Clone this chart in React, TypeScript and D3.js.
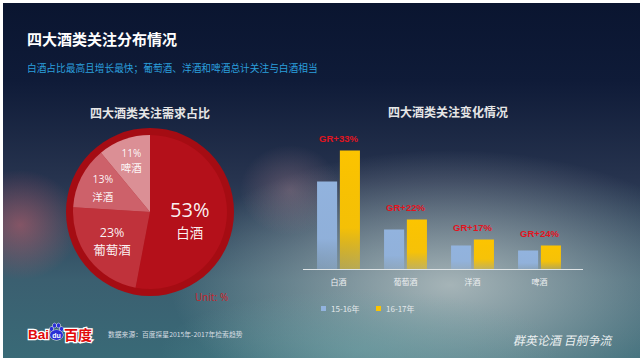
import React, { useEffect, useRef } from 'react';
import * as d3 from 'd3';

// Pie: share of attention by liquor type (%)
const pieLabels = ['白酒', '葡萄酒', '洋酒', '啤酒'];
const pieValues = [53, 23, 13, 11];

// Bars: attention by period
const categories = ['白酒', '葡萄酒', '洋酒', '啤酒'];
const seriesNames = ['15-16年', '16-17年'];
const values1516 = [88, 40, 24, 19];
const values1617 = [119, 50, 30, 24];
const growthLabels = ['GR+33%', 'GR+22%', 'GR+17%', 'GR+24%'];

const W = 640, H = 364;
const CJK = '"Noto Sans CJK SC", "Noto Sans", sans-serif';

const sliceColor: Record<string, string> = { '白酒': '#b4101a', '葡萄酒': '#c0323b', '洋酒': '#cd616a', '啤酒': '#db8f95' };
// label radius, font sizes, line offset and vertical nudge for each slice
const sliceLabel: Record<string, any> = {
  '白酒': { r: 40, pct: 20, name: 13.5, dy: 11, oy: 5 },
  '葡萄酒': { r: 48, pct: 12.5, name: 12.5, dy: 8.5, oy: 0 },
  '洋酒': { r: 53, pct: 10.5, name: 10.5, dy: 8.5, oy: 0 },
  '啤酒': { r: 55, pct: 10, name: 10.5, dy: 7, oy: 0 },
};
const seriesColor = ['#92b3de', '#fcc400'];

const App = () => {
  const svgRef = useRef<SVGSVGElement>(null);

  useEffect(() => {
    const svg = d3.select(svgRef.current);
    svg.selectAll('*').remove();

    // --- background ---
    const defs = svg.append('defs');
    const bg = defs.append('linearGradient').attr('id', 'bg').attr('x1', 0).attr('y1', 0).attr('x2', 0).attr('y2', 1);
    [['0%', '#0a1530'], ['22%', '#0f1b38'], ['50%', '#27344f'], ['78%', '#3b5f70'], ['100%', '#396a77']]
      .forEach(([o, c]) => bg.append('stop').attr('offset', o).attr('stop-color', c));

    const glow = (id: string, color: string, op: number) => {
      const g = defs.append('radialGradient').attr('id', id);
      g.append('stop').attr('offset', '0%').attr('stop-color', color).attr('stop-opacity', op);
      g.append('stop').attr('offset', '100%').attr('stop-color', color).attr('stop-opacity', 0);
    };
    glow('light', '#c9d0cf', 0.75);
    glow('red', '#c8606c', 0.55);
    glow('pink', '#b98a96', 0.35);
    glow('teal', '#6fa5a8', 0.5);

    const barFade = (id: string, color: string) => {
      const g = defs.append('linearGradient').attr('id', id).attr('x1', 0).attr('y1', 0).attr('x2', 0).attr('y2', 1);
      g.append('stop').attr('offset', '0%').attr('stop-color', color).attr('stop-opacity', 1);
      g.append('stop').attr('offset', '65%').attr('stop-color', color).attr('stop-opacity', 0.95);
      g.append('stop').attr('offset', '100%').attr('stop-color', color).attr('stop-opacity', 0.45);
    };
    barFade('fade0', seriesColor[0]);
    barFade('fade1', seriesColor[1]);

    defs.append('clipPath').attr('id', 'panel').append('rect').attr('x', 3).attr('y', 3).attr('width', W - 3).attr('height', 355);

    svg.append('rect').attr('width', W).attr('height', H).attr('fill', '#fff');
    const panel = svg.append('g').attr('clip-path', 'url(#panel)');
    panel.append('rect').attr('x', 3).attr('y', 3).attr('width', W - 3).attr('height', 355).attr('fill', 'url(#bg)');
    panel.append('ellipse').attr('cx', 450).attr('cy', 285).attr('rx', 280).attr('ry', 135).attr('fill', 'url(#light)');
    panel.append('ellipse').attr('cx', 360).attr('cy', 350).attr('rx', 200).attr('ry', 60).attr('fill', 'url(#teal)');
    panel.append('ellipse').attr('cx', 20).attr('cy', 225).attr('rx', 60).attr('ry', 55).attr('fill', 'url(#red)');
    panel.append('ellipse').attr('cx', 290).attr('cy', 190).attr('rx', 50).attr('ry', 45).attr('fill', 'url(#pink)');

    // --- titles ---
    svg.append('text').attr('x', 27).attr('y', 45).text('四大酒类关注分布情况')
      .style('font-family', CJK).style('font-size', '15px').style('font-weight', 'bold').attr('fill', '#ffffff');
    svg.append('text').attr('x', 27).attr('y', 71.5).text('白酒占比最高且增长最快；葡萄酒、洋酒和啤酒总计关注与白酒相当')
      .style('font-family', CJK).style('font-size', '9.7px').attr('fill', '#2b9fdc');

    // --- pie ---
    const cx = 150, cy = 212, R = 84, r = 77;
    svg.append('text').attr('x', cx).attr('y', 118).attr('text-anchor', 'middle').text('四大酒类关注需求占比')
      .style('font-family', CJK).style('font-size', '12px').style('font-weight', 'bold').attr('fill', '#e6e6e6');

    const pg = svg.append('g').attr('transform', `translate(${cx},${cy})`);
    pg.append('circle').attr('r', R).attr('fill', '#a50c13');
    const pieData = pieLabels.map((label, i) => ({ label, value: pieValues[i] }));
    const pie = d3.pie<any>().value(d => d.value).sort(null);
    const arc = d3.arc<any>().innerRadius(0).outerRadius(r);
    const arcs = pie(pieData);
    pg.selectAll('path.slice').data(arcs).join('path').attr('class', 'slice')
      .attr('d', arc).attr('fill', d => sliceColor[d.data.label]);

    const lbl = pg.selectAll('g.lbl').data(arcs).join('g').attr('class', 'lbl')
      .attr('transform', d => {
        const s = sliceLabel[d.data.label];
        const [lx, ly] = d3.arc<any>().innerRadius(s.r).outerRadius(s.r).centroid(d);
        return `translate(${lx},${ly + s.oy})`;
      });
    lbl.append('text').attr('text-anchor', 'middle').attr('dominant-baseline', 'central')
      .attr('y', d => -sliceLabel[d.data.label].dy)
      .style('font-family', '"Open Sans", "Noto Sans", sans-serif')
      .style('font-size', d => `${sliceLabel[d.data.label].pct}px`)
      .attr('fill', '#ffffff').attr('fill-opacity', 0.95)
      .text(d => `${d.data.value}%`);
    lbl.append('text').attr('text-anchor', 'middle').attr('dominant-baseline', 'central')
      .attr('y', d => sliceLabel[d.data.label].dy)
      .style('font-family', CJK)
      .style('font-size', d => `${sliceLabel[d.data.label].name}px`)
      .attr('fill', '#ffffff').attr('fill-opacity', 0.95)
      .text(d => d.data.label);

    svg.append('text').attr('x', 195).attr('y', 301).text('Unit: %')
      .style('font-family', '"Noto Sans", sans-serif').style('font-size', '10px').attr('fill', '#c4262c');

    // --- bars ---
    const base = 269.5;
    svg.append('text').attr('x', 448).attr('y', 117).attr('text-anchor', 'middle').text('四大酒类关注变化情况')
      .style('font-family', CJK).style('font-size', '12px').style('font-weight', 'bold').attr('fill', '#e6e6e6');

    const x = d3.scaleBand().domain(categories).range([305, 573]).paddingInner(0.36).paddingOuter(0.18);
    const xs = d3.scaleBand().domain(seriesNames).range([0, x.bandwidth()]).paddingInner(0.12);
    const y = d3.scaleLinear().domain([0, 120]).range([base, base - 120]);
    const series = [values1516, values1617];

    const groups = svg.selectAll('g.cat').data(categories).join('g').attr('class', 'cat')
      .attr('transform', d => `translate(${x(d)},0)`);
    groups.selectAll('rect').data((d, i) => seriesNames.map((s, k) => ({ s, k, v: series[k][i] }))).join('rect')
      .attr('x', d => xs(d.s)!).attr('width', xs.bandwidth())
      .attr('y', d => y(d.v)).attr('height', d => base - y(d.v))
      .attr('fill', d => `url(#fade${d.k})`);

    svg.selectAll('text.gr').data(categories).join('text').attr('class', 'gr')
      .attr('x', d => x(d)! + x.bandwidth() / 2)
      .attr('y', (d, i) => y(values1617[i]) - 8.5)
      .attr('text-anchor', 'middle')
      .style('font-family', '"Liberation Sans", Arial, sans-serif').style('font-size', '9.5px').style('font-weight', 'bold')
      .attr('fill', '#e3141e')
      .text((d, i) => growthLabels[i]);

    svg.append('line').attr('x1', 303).attr('x2', 583).attr('y1', base).attr('y2', base)
      .attr('stroke', '#dfe4e6').attr('stroke-width', 1.2);

    svg.selectAll('text.cat').data(categories).join('text').attr('class', 'cat')
      .attr('x', d => x(d)! + x.bandwidth() / 2).attr('y', 284.5).attr('text-anchor', 'middle')
      .style('font-family', CJK).style('font-size', '8px').attr('fill', '#eef0f2')
      .text(d => d);

    // legend
    const leg = svg.selectAll('g.leg').data(seriesNames).join('g').attr('class', 'leg')
      .attr('transform', (d, i) => `translate(${321 + i * 55},306)`);
    leg.append('rect').attr('width', 5).attr('height', 5).attr('fill', (d, i) => seriesColor[i]);
    leg.append('text').attr('x', 10).attr('y', 5.5)
      .style('font-family', CJK).style('font-size', '8px').attr('fill', '#e4e8ea').text(d => d);

    // --- footer ---
    const logo = svg.append('g').style('font-weight', 'bold');
    logo.append('text').attr('x', 28).attr('y', 339).text('Bai')
      .style('font-family', '"Liberation Sans", Arial, sans-serif').style('font-size', '13.5px')
      .attr('fill', '#e10a0a').attr('stroke', '#ffffff').attr('stroke-width', 2.5).style('paint-order', 'stroke');
    const paw = logo.append('g').attr('fill', '#2a2fd6').attr('stroke', '#ffffff').attr('stroke-width', 1).style('paint-order', 'stroke');
    [[51.5, 329], [54.5, 325.5], [58.5, 325.5], [61.5, 329]].forEach(([px, py]) =>
      paw.append('ellipse').attr('cx', px).attr('cy', py).attr('rx', 1.7).attr('ry', 2.2));
    paw.append('ellipse').attr('cx', 56.5).attr('cy', 335).attr('rx', 6.5).attr('ry', 5);
    logo.append('text').attr('x', 56.5).attr('y', 337.5).attr('text-anchor', 'middle').text('du')
      .style('font-family', '"Liberation Sans", Arial, sans-serif').style('font-size', '7px').attr('fill', '#ffffff');
    logo.append('text').attr('x', 64).attr('y', 339.5).text('百度')
      .style('font-family', CJK).style('font-size', '14px')
      .attr('fill', '#e10a0a').attr('stroke', '#ffffff').attr('stroke-width', 2.5).style('paint-order', 'stroke');

    svg.append('text').attr('x', 108).attr('y', 336.5).text('数据来源：百度探星2015年-2017年检索趋势')
      .style('font-family', CJK).style('font-size', '6.8px').attr('fill', '#d6dde2');

    svg.append('text').attr('transform', 'translate(513,345) skewX(-12)').text('群英论酒 百舸争流')
      .style('font-family', CJK).style('font-size', '12px').attr('fill', '#ffffff').attr('fill-opacity', 0.88);
  }, []);

  return (
    <svg ref={svgRef} width={W} height={H} style={{ display: 'block', position: 'absolute', left: 0, top: 0 }} />
  );
};

export default App;
